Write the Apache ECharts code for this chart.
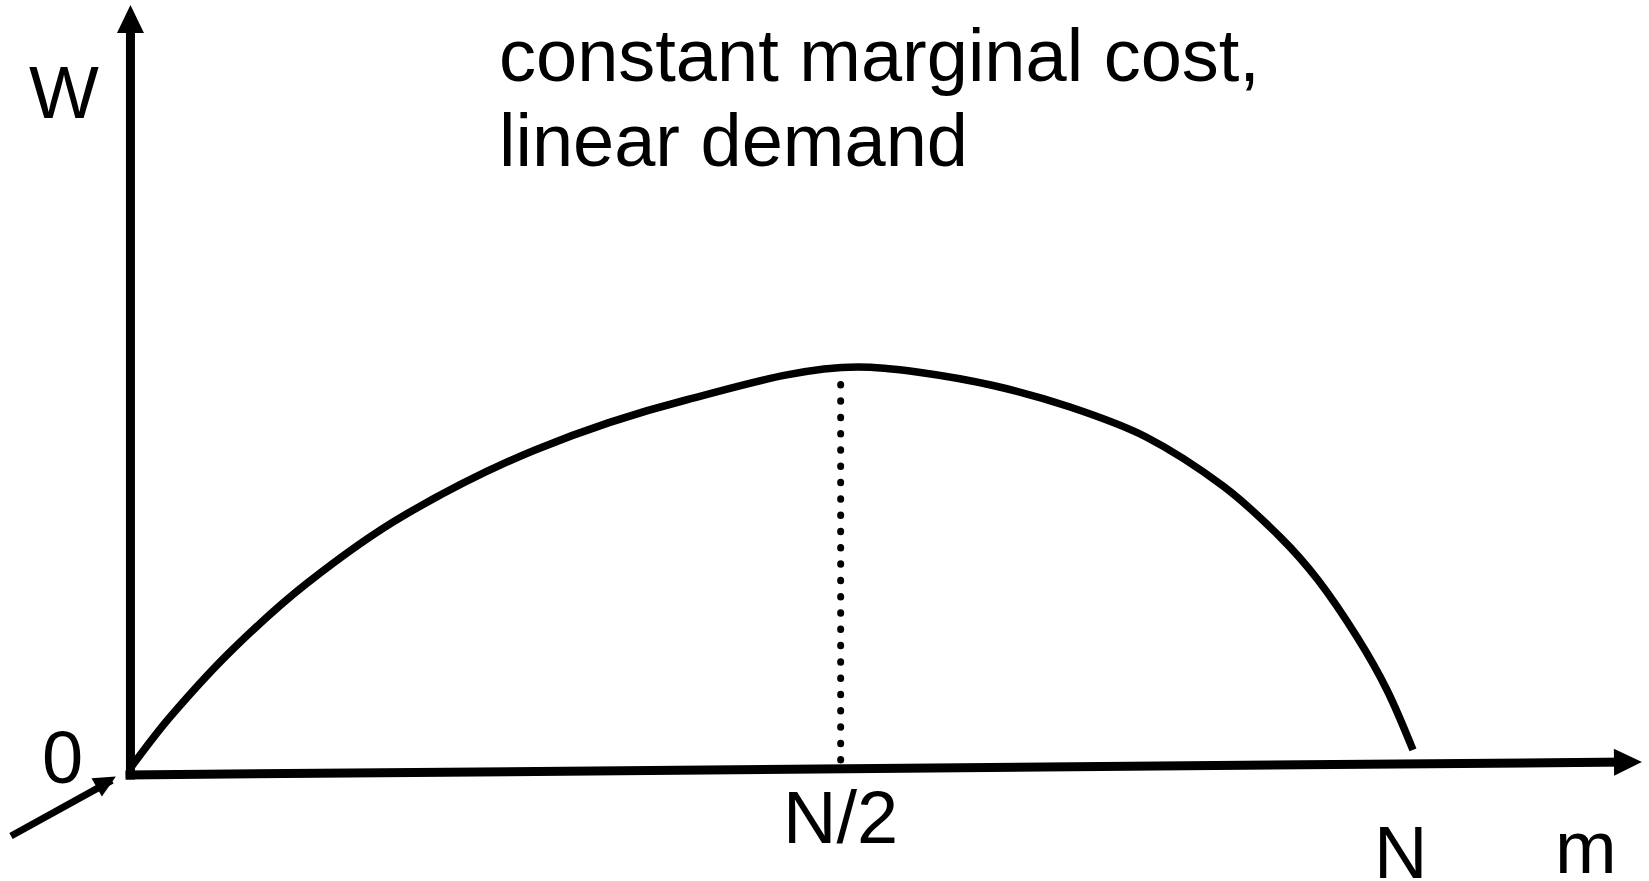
<!DOCTYPE html>
<html>
<head>
<meta charset="utf-8">
<script src="https://cdn.jsdelivr.net/npm/echarts@6/dist/echarts.min.js"></script>
<style>
html,body{margin:0;padding:0;background:#fff;}
#c{width:1649px;height:881px;}
</style>
</head>
<body>
<div id="c"></div>
<script>
// ---- data (x: 0 = origin, 100 = end of m axis; y: 0 = origin, 100 = top of W axis)
const welfareX = [0.13, 2.65, 6.68, 11.64, 18.06, 26.79, 36.77, 48.15, 52.05, 57.08, 62.17, 67.20, 72.29, 76.06, 78.57, 81.15, 83.13, 84.85];
const welfareY = [1.17, 7.53, 16.10, 24.81, 33.64, 42.21, 48.70, 52.99, 52.34, 50.58, 47.79, 43.90, 37.53, 30.91, 25.32, 17.92, 11.04, 3.25];
const halfNX = [47.0, 47.0];          // dotted guide at N/2
const halfNY = [1.95, 52.6];
const tickLabels = ['N/2', 'N'];
const axisNames = ['W', 'm', '0'];
const titleLines = ['constant marginal cost,', 'linear demand'];

const FONT = '"Liberation Sans", Arial, Helvetica, sans-serif';
const FS = 74;

function txt(text, x, baseline, fs) {
  const f = fs || FS;
  return {
    type: 'text', x: x, y: baseline - 0.3465 * f, silent: true,
    style: { text: text, fontSize: f, fontFamily: FONT, fill: '#000', align: 'left', verticalAlign: 'middle' }
  };
}
function seg(name, pts, width) {
  return {
    type: 'line', name: name, data: pts, symbol: 'none', silent: true,
    lineStyle: { color: '#000', width: width, cap: 'butt' }
  };
}
function head(name, pt, size, rot) {
  return {
    type: 'scatter', name: name, data: [pt], symbol: 'triangle', symbolSize: size,
    symbolRotate: rot, silent: true, itemStyle: { color: '#000', opacity: 1 }
  };
}

const chart = echarts.init(document.getElementById('c'), null, { renderer: 'svg', width: 1649, height: 881 });
const option = {
  animation: false,
  backgroundColor: '#fff',
  grid: { left: 0, right: 0, top: 0, bottom: 0 },
  xAxis: { type: 'value', min: -8.598, max: 100.46, show: false },
  yAxis: { type: 'value', min: -13.77, max: 100.65, show: false },
  series: [
    seg('W axis', [[0.03, -0.6], [0.03, 98.3]], 9),
    seg('m axis', [[-0.3, 0], [99.1, 1.68]], 9),
    head('W arrow', [0.03, 98.18], [27, 28], 0),
    head('m arrow', [99.07, 1.68], [27, 28], -89.5),
    seg('pointer', [[-7.87, -7.92], [-1.2, -0.7]], 7),
    head('pointer head', [-1.57, -0.90], [21, 22], -60.4),
    {
      type: 'line', name: 'W(m)',
      data: welfareX.map((x, i) => [x, welfareY[i]]),
      smooth: 0.33, symbol: 'none', silent: true,
      lineStyle: { color: '#000', width: 7.5 }
    },
    {
      type: 'line', name: 'N/2',
      data: halfNX.map((x, i) => [x, halfNY[i]]),
      symbol: 'none', silent: true,
      lineStyle: { color: '#000', width: 7, type: [0.5, 15.8], cap: 'round' }
    }
  ],
  graphic: [
    txt(titleLines[0], 499, 81),
    txt(titleLines[1], 499, 166),
    txt(axisNames[0], 29, 118),
    txt(axisNames[2], 42, 783),
    txt(tickLabels[0], 783, 843),
    txt(tickLabels[1], 1374, 878),
    txt(axisNames[1], 1555, 873)
  ]
};
chart.setOption(option);
</script>
</body>
</html>
